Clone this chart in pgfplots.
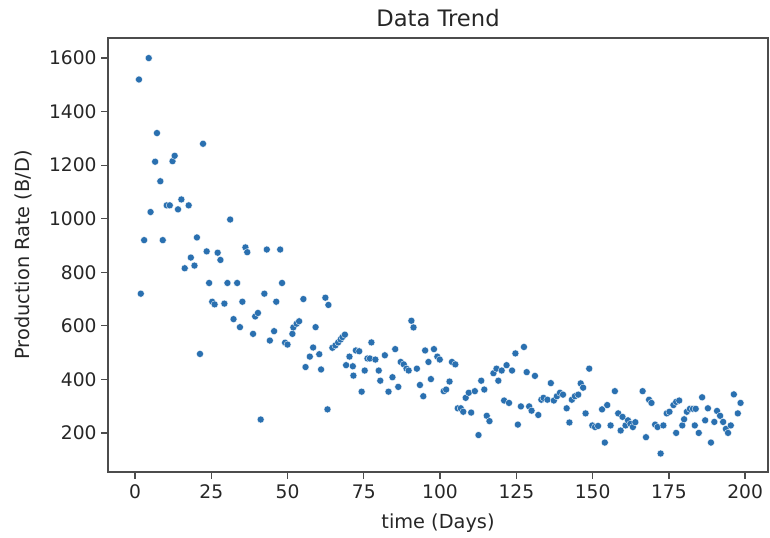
\documentclass[border=0pt]{standalone}
\usepackage{pgfplots}
\pgfplotsset{compat=1.18}
\usepackage{fontspec}
\setmainfont{DejaVu Sans}
\definecolor{mplblue}{HTML}{2A70B0}
\begin{document}
\begin{tikzpicture}
\begin{axis}[
  scale only axis,
  width=495pt, height=325.5pt,
  xmin=-8.85, xmax=207.5, ymin=54, ymax=1675,
  xtick={0,25,...,200}, ytick={200,400,...,1600},
  tick align=outside, tick pos=left,
  major tick length=5pt,
  /pgf/number format/assume math mode=true,
  /pgf/number format/1000 sep={},
  tick label style={font=\fontsize{14}{16}\selectfont, color=black!85},
  label style={font=\fontsize{14.5}{17}\selectfont, color=black!85},
  title style={font=\fontsize{17}{20}\selectfont, color=black!85, yshift=-1pt},
  title={Data Trend},
  xlabel={time (Days)}, ylabel={Production Rate (B/D)},
  axis line style={black!70, line width=1pt},
  every tick/.style={black!70, line width=1pt},
  xticklabel style={yshift=-1pt},
  xlabel style={yshift=-4pt},
  ylabel style={yshift=6pt},
]
\addplot[only marks, mark=*, mark size=2.65pt, mark options={fill=mplblue, draw=white, line width=0.25pt}] coordinates {
(1.3,1520)(1.9,720)(3.0,920)(4.5,1600)(5.1,1025)(6.6,1213)(7.2,1320)(8.3,1140)(9.1,920)(10.4,1050)
(11.4,1050)(12.3,1215)(13.0,1235)(14.1,1035)(15.2,1072)(16.3,815)(17.6,1050)(18.3,855)(19.5,825)(20.3,930)
(21.3,495)(22.3,1280)(23.5,878)(24.3,760)(25.3,690)(26.1,680)(27.1,873)(28.0,846)(29.3,683)(30.3,760)
(31.2,997)(32.3,625)(33.5,760)(34.4,595)(35.2,690)(36.2,893)(36.8,875)(38.7,570)(39.4,635)(40.3,648)
(41.2,250)(42.4,720)(43.2,885)(44.2,545)(45.6,580)(46.3,690)(47.6,885)(48.2,760)(49.2,537)(50.0,530)
(51.6,570)(51.9,594)(53.0,608)(53.8,617)(55.2,700)(55.9,446)(57.3,485)(58.4,519)(59.2,595)(60.4,494)
(61.0,437)(62.4,705)(63.1,288)(63.4,678)(64.7,518)(65.7,527)(66.6,538)(67.4,549)(68.0,558)(68.8,567)
(69.2,453)(70.3,485)(71.4,449)(71.6,414)(72.4,508)(73.5,505)(74.3,354)(75.3,433)(76.2,478)(77.0,478)
(77.5,538)(78.8,474)(79.9,433)(80.4,395)(81.9,490)(83.1,354)(84.4,408)(85.3,513)(86.3,372)(87.1,465)
(88.1,456)(89.0,440)(89.7,433)(90.6,619)(91.3,594)(92.4,440)(93.4,379)(94.5,337)(95.1,508)(96.2,465)
(97.0,401)(98.0,513)(99.1,485)(99.9,474)(101.2,356)(102.0,362)(103.1,392)(103.9,465)(105.0,456)(105.8,292)
(106.8,292)(107.6,279)(108.4,331)(109.4,350)(110.2,276)(111.4,356)(112.6,192)(113.5,395)(114.5,362)(115.3,264)
(116.2,244)(117.5,423)(118.5,440)(119.1,395)(120.2,433)(121.0,321)(121.8,453)(122.6,312)(123.6,433)(124.7,497)
(125.5,231)(126.5,299)(127.5,521)(128.4,427)(129.2,299)(130.0,283)(131.1,413)(132.2,267)(133.2,324)(133.9,331)
(135.2,324)(136.3,386)(137.3,321)(138.3,337)(139.3,350)(140.3,343)(141.5,292)(142.4,239)(143.2,324)(144.2,337)
(145.3,343)(146.1,385)(146.9,369)(147.7,273)(148.9,440)(149.9,228)(150.8,222)(151.8,226)(153.1,288)(154.0,164)
(154.8,304)(155.9,228)(157.3,356)(158.4,273)(159.2,209)(159.8,260)(160.8,228)(161.6,247)(162.4,234)(163.2,222)
(164.0,240)(166.4,356)(167.5,184)(168.5,324)(169.3,312)(170.5,231)(171.3,222)(172.3,123)(173.2,228)(174.3,273)
(175.2,279)(176.5,304)(177.4,316)(178.4,321)(177.4,200)(179.4,228)(180.0,251)(180.9,279)(181.9,290)(182.9,290)
(183.8,290)(183.5,228)(184.8,200)(185.9,333)(186.9,247)(187.8,292)(188.8,164)(189.9,241)(190.8,282)(191.8,264)
(192.8,241)(193.7,215)(194.4,200)(195.3,228)(196.3,344)(197.6,273)(198.5,312)
};
\end{axis}
\path (current axis.south west) ++(-81pt,-48.75pt) (current axis.north east) ++(1.5pt,28.5pt);
\end{tikzpicture}
\end{document}
